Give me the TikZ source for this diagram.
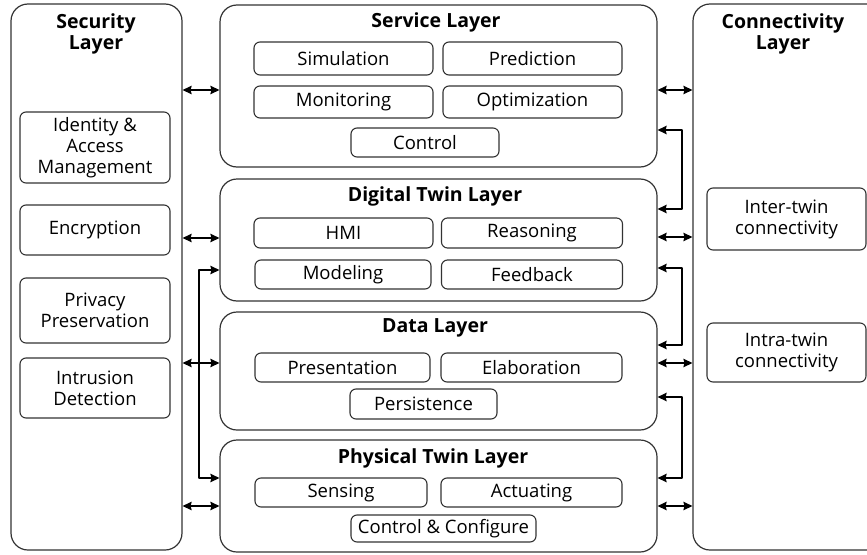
\documentclass[tikz,border=0pt]{standalone}
\usepackage{fontspec}
\setmainfont{Open Sans}
\usetikzlibrary{arrows.meta}

\begin{document}
\begin{tikzpicture}[line cap=round,line join=round,>={Stealth[length=9pt,width=8.5pt,inset=1pt]},x=1pt,y=-1pt,
	layer/.style={draw=black!80,line width=1.2pt,rounded corners=17pt},
	unit/.style={draw=black!80,line width=1.1pt,rounded corners=6pt,align=center,
		font=\fontsize{18.5}{21}\selectfont,inner sep=0pt},
	title/.style={font=\fontsize{19.5}{21}\selectfont\bfseries,align=center},
	link/.style={<->,line width=1.4pt,color=black}]
	\clip (0,0) rectangle (867,554);
	\useasboundingbox (0,0) rectangle (867,554);

	% side layers
	\node[layer,minimum width=171pt,minimum height=546pt] (sec) at (96.5,277) {};
	\node[layer,minimum width=200pt,minimum height=546pt] (con) at (793,277) {};
	\node[title] (sect) at (96,34) {Security\\Layer};
	\node[title] (cont) at (783,34) {Connectivity\\Layer};

	% middle layers
	\node[layer,minimum width=437pt,minimum height=162pt] (svc) at (438.5,86) {};
	\node[layer,minimum width=437pt,minimum height=122pt] (dt) at (438.5,240) {};
	\node[layer,minimum width=437pt,minimum height=118pt] (data) at (438.5,371) {};
	\node[layer,minimum width=437pt,minimum height=112pt] (phy) at (438.5,496) {};
	\node[title] (svct) at (436,22) {Service Layer};
	\node[title] (dtt) at (435,196) {Digital Twin Layer};
	\node[title] (datat) at (435,328) {Data Layer};
	\node[title] (phyt) at (433,458) {Physical Twin Layer};

	% service
	\node[unit,minimum width=179pt,minimum height=33pt] (sim) at (343.5,58.5) {Simulation};
	\node[unit,minimum width=179pt,minimum height=33pt] (pred) at (532.5,58.5) {Prediction};
	\node[unit,minimum width=179pt,minimum height=32pt] (mon) at (343.5,102) {Monitoring};
	\node[unit,minimum width=179pt,minimum height=32pt] (opt) at (532.5,102) {Optimization};
	\node[unit,minimum width=148pt,minimum height=29pt] (ctl) at (425,142.5) {Control};

	% digital twin
	\node[unit,minimum width=179pt,minimum height=30pt] (hmi) at (343.5,233) {HMI};
	\node[unit,minimum width=181pt,minimum height=30pt] (rea) at (532,233) {Reasoning};
	\node[unit,minimum width=176pt,minimum height=29pt] (mod) at (343,274.5) {Modeling};
	\node[unit,minimum width=181pt,minimum height=29pt] (fbk) at (532,274.5) {Feedback};

	% data
	\node[unit,minimum width=175pt,minimum height=29pt] (pres) at (342.5,367.5) {Presentation};
	\node[unit,minimum width=181pt,minimum height=29pt] (elab) at (531.5,367.5) {Elaboration};
	\node[unit,minimum width=147pt,minimum height=30pt] (pers) at (423.5,404) {Persistence};

	% physical twin
	\node[unit,minimum width=172pt,minimum height=29pt] (sens) at (341,492.5) {Sensing};
	\node[unit,minimum width=181pt,minimum height=29pt] (act) at (531.5,492.5) {Actuating};
	\node[unit,minimum width=185pt,minimum height=27pt] (cfg) at (443.5,528.5) {Control \& Configure};

	% security
	\node[unit,minimum width=150pt,minimum height=71pt] (iam) at (95,147.5) {Identity \&\\Access\\Management};
	\node[unit,minimum width=150pt,minimum height=50pt] (enc) at (95,230) {Encryption};
	\node[unit,minimum width=150pt,minimum height=65pt] (priv) at (95,310.5) {Privacy\\Preservation};
	\node[unit,minimum width=150pt,minimum height=60pt] (ids) at (95,388) {Intrusion\\Detection};

	% connectivity
	\node[unit,minimum width=159pt,minimum height=62pt] (inter) at (786.5,219) {Inter-twin\\connectivity};
	\node[unit,minimum width=159pt,minimum height=59pt] (intra) at (786.5,352.5) {Intra-twin\\connectivity};

	% links to security layer
	\foreach \l/\y in {svc/90,dt/238,data/363,phy/506}
	\draw[link] (sec.east |- 0,\y) -- (\l.west |- 0,\y);
	\coordinate (lb1) at (199,270);
	\coordinate (lb2) at (199,478);
	\draw[link] (dt.west |- lb1) -- (lb1) -- (lb2) -- (phy.west |- lb2);

	% links to connectivity layer
	\foreach \l/\y in {svc/90,dt/237,data/363,phy/506}
	\draw[link] (\l.east |- 0,\y) -- (con.west |- 0,\y);
	\coordinate (rb1) at (682,130);
	\coordinate (rb2) at (682,209);
	\coordinate (rb3) at (682,268);
	\coordinate (rb4) at (682,345);
	\coordinate (rb5) at (682,397);
	\coordinate (rb6) at (682,478);
	\draw[link] (svc.east |- rb1) -- (rb1) -- (rb2) -- (dt.east |- rb2);
	\draw[link] (dt.east |- rb3) -- (rb3) -- (rb4) -- (data.east |- rb4);
	\draw[link] (data.east |- rb5) -- (rb5) -- (rb6) -- (phy.east |- rb6);
\end{tikzpicture}
\end{document}
